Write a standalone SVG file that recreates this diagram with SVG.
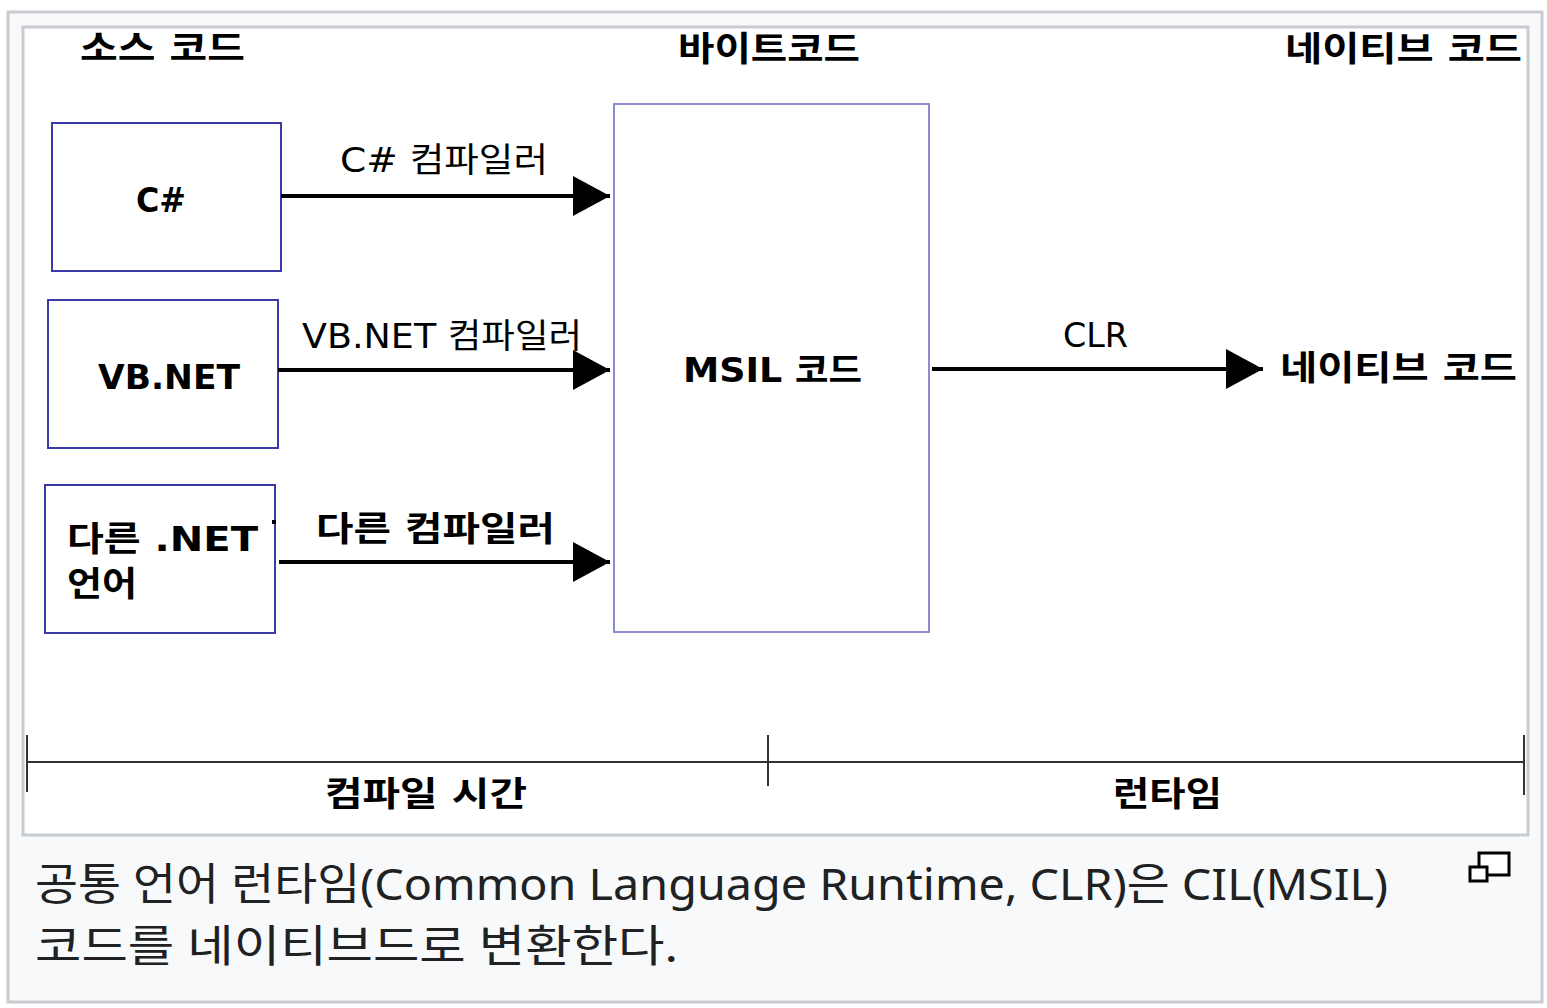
<svg xmlns="http://www.w3.org/2000/svg" width="1547" height="1008" viewBox="0 0 1547 1008">
<style>
.kb{font-family:"DejaVu Sans","Noto Sans CJK KR",sans-serif;font-weight:bold;font-size:34px;fill:#000}
.kr{font-family:"DejaVu Sans","Noto Sans CJK KR",sans-serif;font-weight:normal;font-size:34px;fill:#000}
.cap{font-family:"Noto Sans","Noto Sans CJK KR",sans-serif;font-size:44px;fill:#202122}
.src{fill:#fff;stroke:#3a3aa8;stroke-width:2}
.msil{fill:#fff;stroke:#8c8cd0;stroke-width:2}
.conn{stroke:#000;stroke-width:4;fill:none}
.tl{stroke:#333;stroke-width:2;fill:none}
</style>
<defs>
<marker id="ah" markerUnits="userSpaceOnUse" markerWidth="38" markerHeight="40" refX="37" refY="20" orient="auto">
<path d="M0,0 L37,20 L0,40 Z" fill="#000"/>
</marker>
</defs>
<rect x="8" y="12" width="1534" height="990" fill="#f8f9fa" stroke="#c8ccd1" stroke-width="3"/>
<rect x="23" y="27" width="1505" height="808" fill="#fff" stroke="#c8ccd1" stroke-width="3"/>
<g id="headers">
<text class="kb" x="80" y="60" font-size="36" textLength="165" lengthAdjust="spacingAndGlyphs">소스 코드</text>
<text class="kb" x="678" y="61" font-size="36" textLength="182" lengthAdjust="spacingAndGlyphs">바이트코드</text>
<text class="kb" x="1285" y="61" font-size="36" textLength="237" lengthAdjust="spacingAndGlyphs">네이티브 코드</text>
</g>
<g id="node-csharp">
<rect class="src" x="52" y="123" width="229" height="148"/>
<text class="kb" x="136" y="212" textLength="50" lengthAdjust="spacingAndGlyphs">C#</text>
</g>
<g id="node-vbnet">
<rect class="src" x="48" y="300" width="230" height="148"/>
<text class="kb" x="98" y="389" textLength="142" lengthAdjust="spacingAndGlyphs">VB.NET</text>
</g>
<g id="node-other">
<rect class="src" x="45" y="485" width="230" height="148"/>
<text class="kb" x="67" y="551" textLength="191" lengthAdjust="spacingAndGlyphs">다른 .NET</text>
<text class="kb" x="67" y="596" textLength="70" lengthAdjust="spacingAndGlyphs">언어</text>
<rect x="272" y="520" width="4" height="4" fill="#000"/>
</g>
<g id="node-msil">
<rect class="msil" x="614" y="104" width="315" height="528"/>
<text class="kb" x="683" y="382" textLength="179" lengthAdjust="spacingAndGlyphs">MSIL 코드</text>
</g>
<g id="node-native">
<text class="kb" x="1280" y="380" textLength="237" lengthAdjust="spacingAndGlyphs">네이티브 코드</text>
</g>
<g id="connectors">
<line class="conn" x1="281" y1="196" x2="610" y2="196" marker-end="url(#ah)"/>
<line class="conn" x1="278" y1="370" x2="610" y2="370" marker-end="url(#ah)"/>
<line class="conn" x1="279" y1="562" x2="610" y2="562" marker-end="url(#ah)"/>
<line class="conn" x1="932" y1="369" x2="1263" y2="369" marker-end="url(#ah)"/>
<text class="kr" x="340" y="172" textLength="208" lengthAdjust="spacingAndGlyphs">C# 컴파일러</text>
<text class="kr" x="302" y="348" textLength="280" lengthAdjust="spacingAndGlyphs">VB.NET 컴파일러</text>
<text class="kb" x="316" y="541" textLength="239" lengthAdjust="spacingAndGlyphs">다른 컴파일러</text>
<text class="kr" x="1063" y="347" textLength="65" lengthAdjust="spacingAndGlyphs">CLR</text>
</g>
<g id="timeline">
<line class="tl" x1="27" y1="762" x2="1524" y2="762"/>
<line class="tl" x1="27" y1="735" x2="27" y2="792"/>
<line class="tl" x1="768" y1="735" x2="768" y2="786"/>
<line class="tl" x1="1524" y1="735" x2="1524" y2="795"/>
<text class="kb" x="325" y="806" textLength="202" lengthAdjust="spacingAndGlyphs">컴파일 시간</text>
<text class="kb" x="1113" y="806" textLength="109" lengthAdjust="spacingAndGlyphs">런타임</text>
</g>
<g id="caption">
<text class="cap" x="35" y="900" textLength="1353" lengthAdjust="spacingAndGlyphs">공통 언어 런타임(Common Language Runtime, CLR)은 CIL(MSIL)</text>
<text class="cap" x="35" y="962" textLength="643" lengthAdjust="spacingAndGlyphs">코드를 네이티브드로 변환한다.</text>
<rect x="1479" y="853" width="30" height="22" fill="#fff" stroke="#000" stroke-width="3"/>
<rect x="1470" y="867" width="17" height="14" fill="#fff" stroke="#000" stroke-width="3"/>
</g>
</svg>
